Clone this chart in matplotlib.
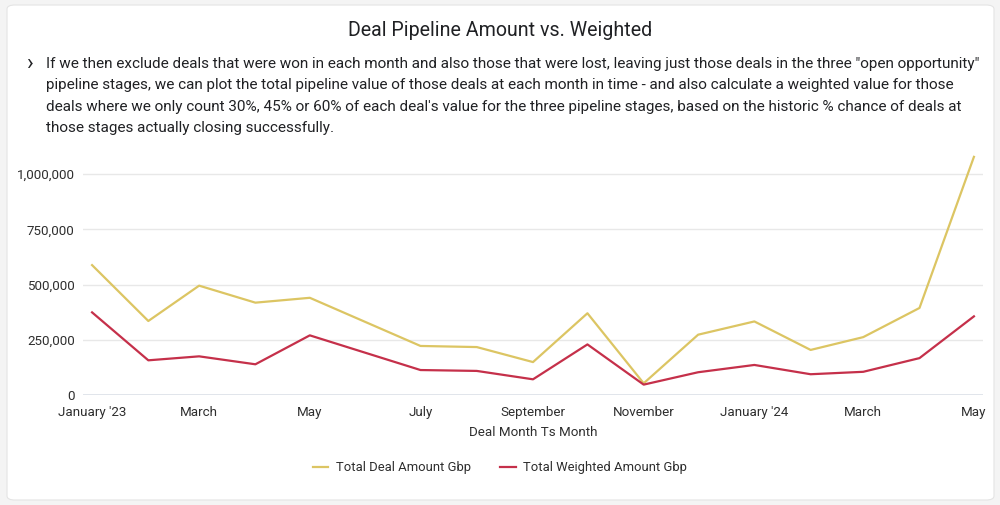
import matplotlib
matplotlib.use("Agg")
import matplotlib.pyplot as plt
import matplotlib.ticker as mticker
from matplotlib.patches import FancyBboxPatch
import pandas as pd

plt.rcParams['font.family'] = ['Roboto', 'DejaVu Sans']

# June 2023 has no value in the source, the line just joins May to July
months = ["2023-01", "2023-02", "2023-03", "2023-04", "2023-05", "2023-07",
          "2023-08", "2023-09", "2023-10", "2023-11", "2023-12", "2024-01",
          "2024-02", "2024-03", "2024-04", "2024-05"]
total_deal = [588000, 335000, 495000, 418000, 440000, 222000, 217000, 149000,
              370000, 53000, 273000, 333000, 204000, 262000, 394000, 1078000]
total_weighted = [374000, 157000, 175000, 139000, 270000, 113000, 109000, 71000,
                  229000, 47000, 103000, 136000, 94000, 105000, 167000, 356000]

tick_months = ["2023-01", "2023-03", "2023-05", "2023-07", "2023-09", "2023-11",
               "2024-01", "2024-03", "2024-05"]
tick_labels = ["January '23", "March", "May", "July", "September", "November",
               "January '24", "March", "May"]
y_ticks = [0, 250000, 500000, 750000, 1000000]

title = "Deal Pipeline Amount vs. Weighted"
note_lines = [
    'If we then exclude deals that were won in each month and also those that were lost, leaving just those deals in the three "open opportunity"',
    "pipeline stages, we can plot the total pipeline value of those deals at each month in time - and also calculate a weighted value for those",
    "deals where we only count 30%, 45% or 60% of each deal's value for the three pipeline stages, based on the historic % chance of deals at",
    "those stages actually closing successfully.",
]

yellow = "#dcc563"
red = "#c5304a"
txt = "#2e2e2e"

dates = pd.to_datetime(months)
tick_dates = pd.to_datetime(tick_months)

fig = plt.figure(figsize=(10, 5.05), dpi=100)
fig.patch.set_facecolor("#f4f4f4")

card = FancyBboxPatch((7 / 1000, 5 / 505), 987 / 1000, 495 / 505,
                      boxstyle="round,pad=0,rounding_size=0.008",
                      transform=fig.transFigure, facecolor="white",
                      edgecolor="#e4e4e4", linewidth=0.8, zorder=-10)
fig.patches.append(card)

fig.text(0.5, 1 - 31 / 505, title, ha="center", va="center", fontsize=14.1, color="#202124")
fig.text(29 / 1000, 1 - 65 / 505, "›", ha="center", va="center", fontsize=16, color="#202124")
for i, line in enumerate(note_lines):
    fig.text(46 / 1000, 1 - (64 + i * 21.3) / 505, line, ha="left", va="center",
             fontsize=10.95, color="#202124")

ax = fig.add_axes([83 / 1000, 1 - 395 / 505, 900 / 1000, 243 / 505])
ax.patch.set_alpha(0)
ax.plot(dates, total_deal, color=yellow, lw=1.6, label="Total Deal Amount Gbp")
ax.plot(dates, total_weighted, color=red, lw=1.6, label="Total Weighted Amount Gbp")

ax.set_xlim(dates[0] - pd.Timedelta(days=5), dates[-1] + pd.Timedelta(days=5))
ax.set_ylim(0, 1100000)
ax.set_xticks(tick_dates)
ax.set_xticklabels(tick_labels)
ax.set_yticks(y_ticks)
ax.yaxis.set_major_formatter(mticker.FuncFormatter(lambda v, p: f"{int(v):,}"))
ax.tick_params(axis="both", length=0, labelsize=9.6, colors=txt)
ax.tick_params(axis="x", pad=8)
ax.tick_params(axis="y", pad=6)
for s in ax.spines.values():
    s.set_visible(False)
ax.grid(axis="y", color="#e8e8e8", lw=1)
ax.set_axisbelow(True)
ax.axhline(0, color="#dde1e8", lw=1.2, zorder=1)
ax.set_xlabel("Deal Month Ts Month", fontsize=9.6, color=txt, labelpad=5)

leg = fig.legend(loc="center", bbox_to_anchor=(0.5, 1 - 468 / 505), ncol=2, frameon=False,
                 fontsize=9.4, handlelength=1.2, columnspacing=2.2, handletextpad=0.6)
for t in leg.get_texts():
    t.set_color(txt)

fig.savefig("out.png", dpi=100, facecolor=fig.get_facecolor())
